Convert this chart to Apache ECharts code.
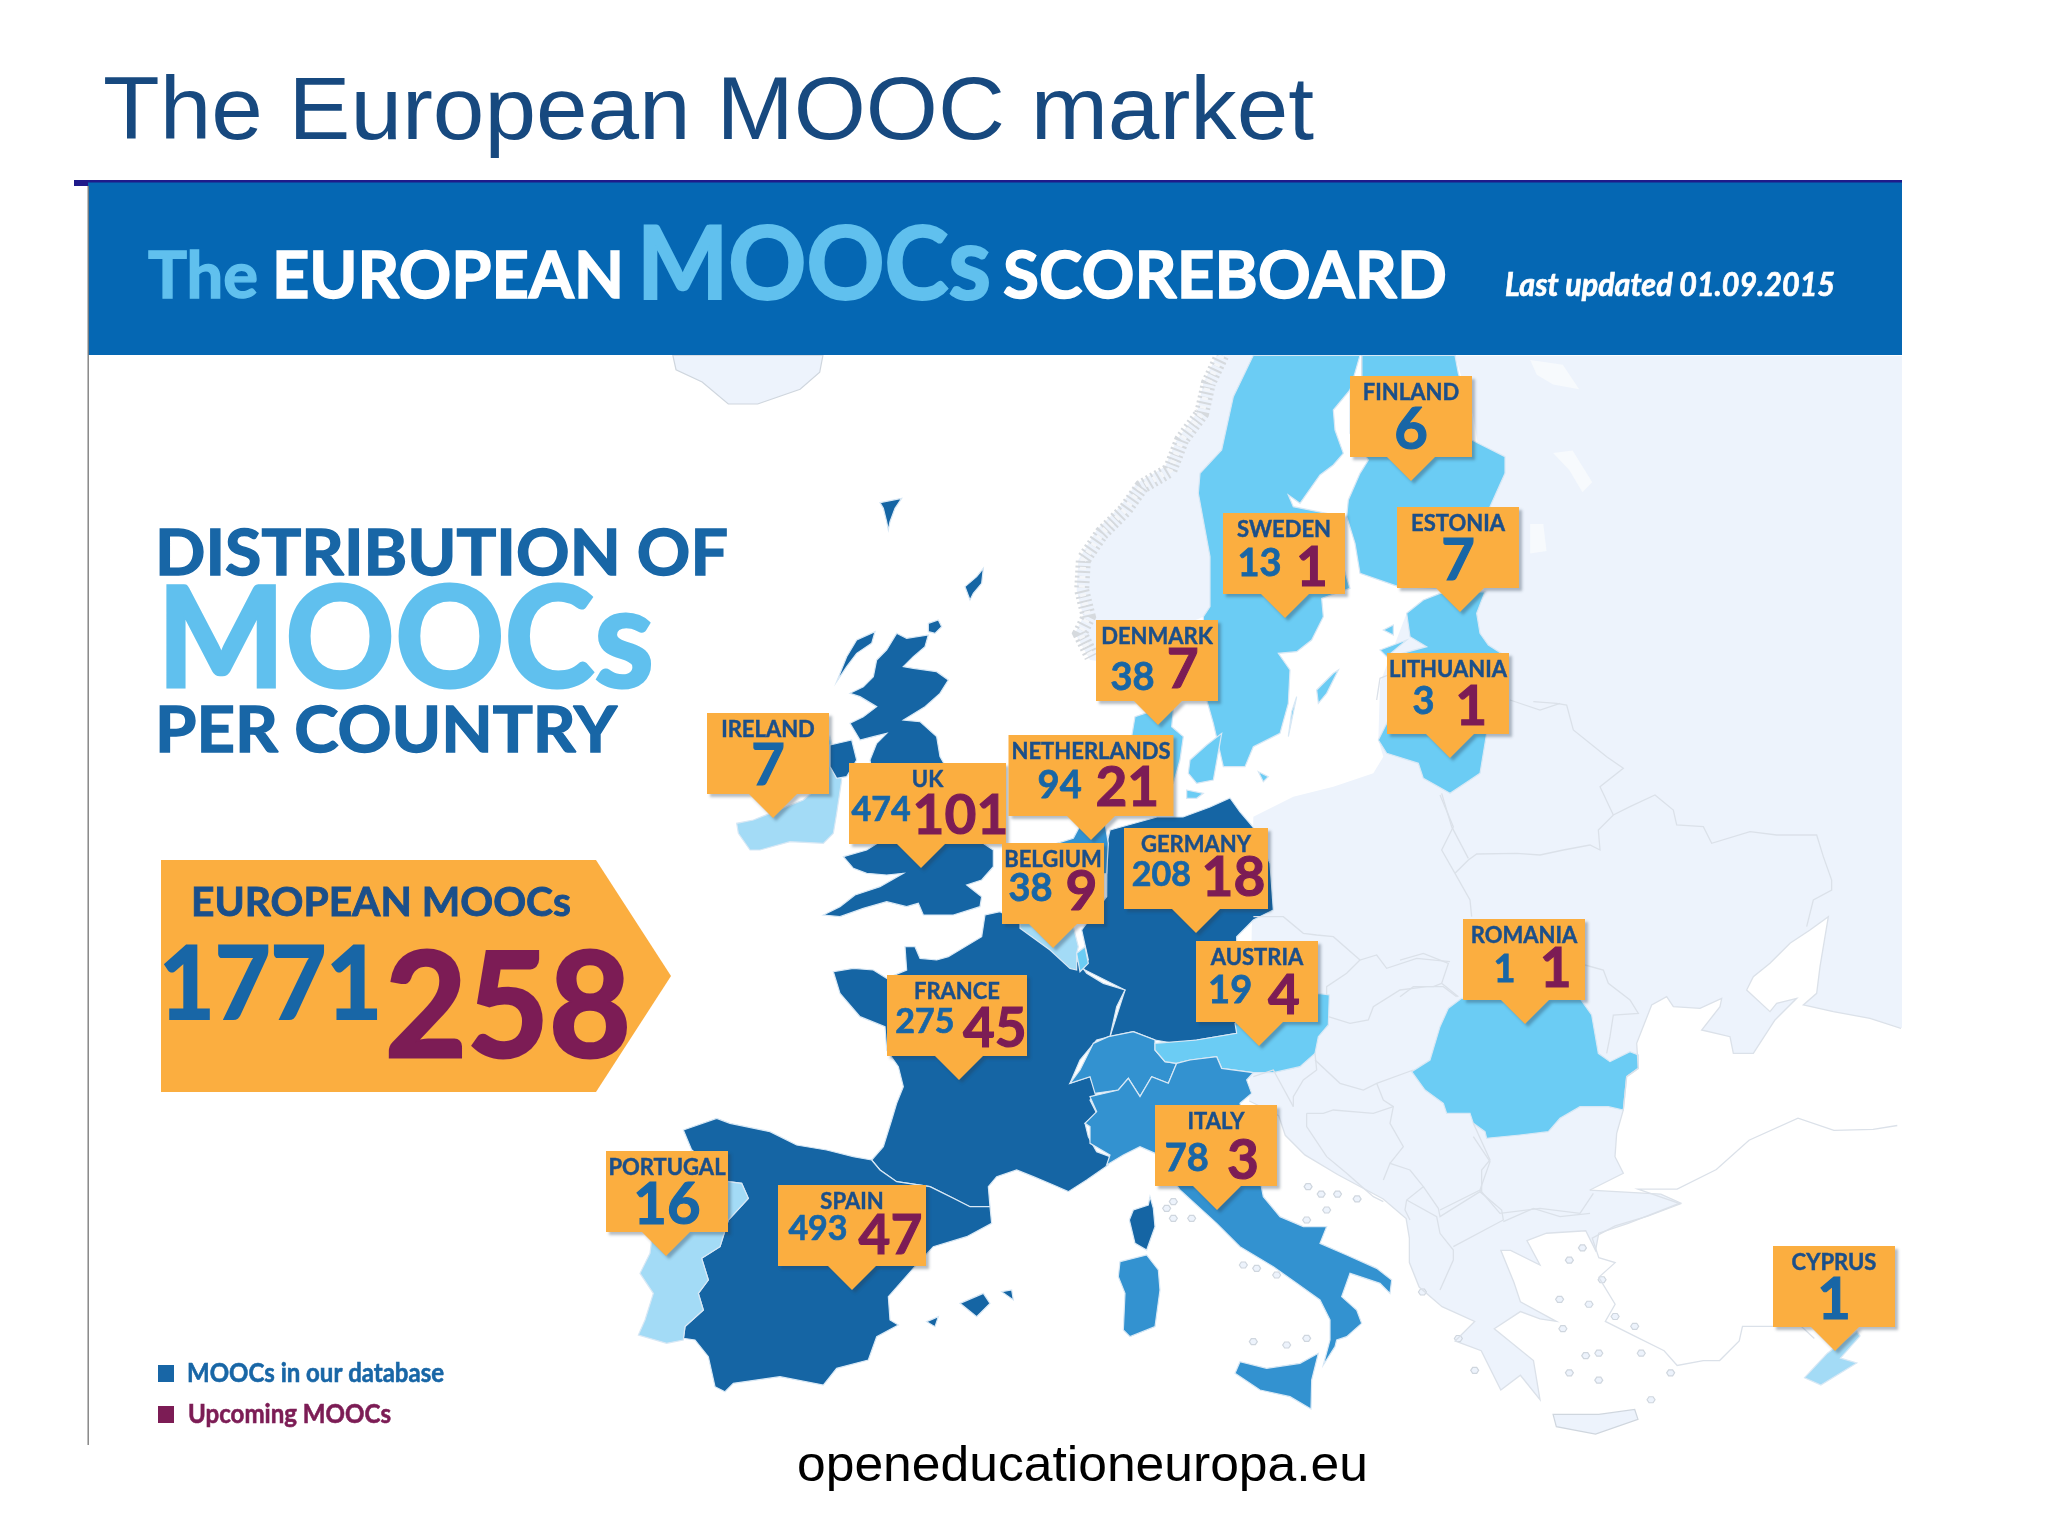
<!DOCTYPE html>
<html lang="en">
<head>
<meta charset="utf-8">
<title>The European MOOC market</title>
<script src="https://cdn.jsdelivr.net/npm/echarts@6/dist/echarts.min.js"></script>
<style>
  html, body { margin: 0; background: #fff; }
  #chart { width: 2048px; height: 1536px; }
</style>
</head>
<body>
<div id="chart"></div>
<script>
const countries = ['FINLAND', 'SWEDEN', 'ESTONIA', 'DENMARK', 'LITHUANIA', 'IRELAND', 'UK', 'NETHERLANDS', 'BELGIUM', 'GERMANY', 'AUSTRIA', 'ROMANIA', 'FRANCE', 'ITALY', 'PORTUGAL', 'SPAIN', 'CYPRUS'];
const dbCounts = [6, 13, 7, 38, 3, 7, 474, 94, 38, 208, 19, 1, 275, 78, 16, 493, 1];
const upcomingCounts = [null, 1, null, 7, 1, null, 101, 21, 9, 18, 4, 1, 45, 3, null, 47, null];

// where each callout points at on the map (page pixels)
const anchorX = [1411, 1285, 1460, 1158, 1450, 773, 921, 1091, 1053, 1196, 1259, 1525, 959, 1217, 666, 852, 1835];
const anchorY = [481, 618, 612, 725, 758, 818, 868, 840, 948, 933, 1046, 1024, 1080, 1210, 1256, 1290, 1351];

// callout box: width, db x / upcoming x as share of width, db y / upcoming y below box top, box shift from the tip
const boxLayout = {
  FINLAND: [122, .5, 0, 54, 0, 0], SWEDEN: [122, .30, .73, 51, 55, -1], ESTONIA: [122, .5, 0, 54, 0, -2],
  DENMARK: [122, .30, .71, 58, 50, -1], LITHUANIA: [122, .30, .69, 49, 54, -2], IRELAND: [122, .5, 0, 53, 0, -5],
  UK: [157, .205, .71, 47, 53, 6.5], NETHERLANDS: [165, .31, .72, 51, 53, 0], BELGIUM: [102, .28, .78, 46, 49, 0],
  GERMANY: [144, .26, .76, 47, 50, 0], AUSTRIA: [122, .28, .72, 50, 55, -2], ROMANIA: [122, .34, .76, 51, 50, -1],
  FRANCE: [140, .27, .77, 47, 54, -2], ITALY: [122, .26, .72, 54, 56, -1], PORTUGAL: [122, .5, 0, 54, 0, 1],
  SPAIN: [148, .27, .76, 44, 51, 0], CYPRUS: [122, .5, 0, 54, 0, -1]
};

const ORANGE = '#fbae40', NAVY = '#1b4f8a', BLUE = '#1866a6', PLUM = '#7c1c55', SKY = '#60c0ee', WHITE = '#ffffff';
const DARK = '#1565a4', MID = '#3392d0', LIGHT = '#6bccf4', PALE = '#a3dbf6', LAND = '#edf3fc';

const crop = (ox, oy, sx, sy) => flat => {
  const out = [];
  for (let i = 0; i < flat.length; i += 2) out.push([ox + flat[i] * sx, oy + flat[i + 1] * sy]);
  return out;
};
const z1 = crop(0, 0, 1 / 1.531, 1 / 2.042);
const z2 = crop(1024, 0, 1 / 1.531, 1 / 2.042);
const z4 = crop(1024, 768, 1 / 1.531, 1 / 2.042);
const z5 = crop(620, 480, 1 / 3, 1 / 3);
const z6 = crop(620, 960, 1 / 3, 1 / 3);
const z7 = crop(1040, 880, 1 / 3, 1 / 3);
const z8 = crop(1040, 350, 1 / 3, 1 / 3);
const z9 = crop(1400, 700, 1 / 3, 1 / 3);

const adriaticCoast = z4([345,680, 390,710, 400,750, 430,790, 480,830, 550,880, 585,920, 590,960, 590,1010, 605,1060, 640,1100, 690,1130, 660,1170, 700,1190, 730,1270, 760,1240, 790,1290, 780,1210, 720,1145, 760,1110, 790,1125, 815,1130, 760,1090, 750,1050, 730,985, 745,985, 790,1015, 770,965, 800,950, 860,945, 875,985, 880,950, 925,930, 1005,888, 975,870, 866,862]);
const blackSeaCoast = z9([1503,985, 1410,955, 1300,935, 1210,915, 1250,880, 1260,800, 1285,650, 1230,690, 1170,730, 1110,790, 1060,830, 1040,870, 1110,935, 1130,910, 1190,895, 1125,960, 1060,1060, 1000,1060, 990,1010, 905,990, 960,920, 965,895, 900,925, 820,920, 800,890, 755,915, 710,1030, 715,1105, 680,1130, 670,1230, 650,1300, 645,1370, 670,1420, 570,1470]);
const norwayCoast = z8([530,16, 490,100, 470,190, 410,270, 375,350, 290,400, 240,470, 170,540, 115,630, 110,720, 130,800, 105,850, 150,930]);
const norwayFjords = z8([545,16, 505,100, 485,190, 425,270, 390,360, 305,410, 255,480, 185,550, 130,630, 125,720, 145,800, 120,850, 155,920]);
const turkeyCoast = z4([1337,730, 1300,738, 1240,740, 1185,715, 1110,760, 1060,820, 1000,860, 940,860, 1005,890, 955,915, 905,935, 870,960, 880,1000, 905,1010, 880,1040, 905,1095, 890,1130, 935,1160, 980,1190, 1000,1220, 1040,1210, 1065,1210, 1095,1170, 1100,1140, 1190,1140, 1210,1165]);

const shapes = {
  Iceland: [z1([1030,725, 1260,725, 1255,760, 1225,795, 1160,825, 1115,825, 1075,780, 1035,755])],
  Norway: [[...norwayCoast, ...z8([300,950, 420,830, 490,800, 510,770, 510,620, 475,430, 480,370, 545,300, 580,140, 640,16])]],
  Mainland: [[[1455, 356], [1902, 356], [1902, 1028], ...blackSeaCoast, ...adriaticCoast.slice().reverse(), ...z8([640,1400, 760,1340, 880,1310, 1000,1270, 1030,1220, 1015,1170, 1020,1000, 1050,920, 1100,790, 1200,730, 1330,720, 1350,500, 1300,200, 1245,16])]],
  Crete: [z4([810,1320, 880,1320, 935,1310, 940,1330, 875,1360, 815,1345])],
  Lakes: [z2([775,735, 825,745, 850,795, 810,785, 785,765]), z2([810,925, 840,920, 870,985, 855,1005, 835,960]), z2([775,1070, 795,1070, 800,1125, 775,1130])],
  Sweden: [z8([640,16, 960,16, 930,120, 880,180, 885,240, 910,310, 880,345, 840,375, 780,460, 745,435, 760,470, 910,500, 910,650, 930,715, 845,745, 850,800, 815,870, 770,905, 715,910, 750,960, 745,1060, 720,1150, 640,1190, 615,1250, 550,1250, 520,1120, 500,1050, 490,800, 510,770, 510,620, 475,430, 480,370, 545,300, 580,140]),
    z8([830,1020, 880,970, 895,960, 860,1030, 835,1060]), z8([770,1040, 745,1160, 755,1085])],
  Finland: [z8([965,16, 1245,16, 1255,70, 1295,200, 1295,270, 1395,320, 1395,370, 1350,470, 1300,600, 1200,715, 1075,710, 960,670, 945,580, 920,500, 925,450, 960,370, 985,330, 930,250, 930,120, 965,80])],
  Estonia: [z8([1100,790, 1150,750, 1200,730, 1335,725, 1310,790, 1320,850, 1345,885, 1400,920, 1050,920, 1160,890, 1110,860]),
    z8([1020,900, 1100,870, 1040,920]), z8([1030,840, 1060,825, 1060,855])],
  Lithuania: [z8([1050,1100, 1400,1100, 1340,1150, 1320,1270, 1290,1290, 1230,1330, 1150,1285, 1135,1240, 1040,1210, 1015,1170])],
  Denmark: [z8([275,1160, 285,1100, 330,1085, 400,1080, 395,1130, 430,1160, 420,1230, 400,1300, 290,1300]),
    z8([450,1230, 500,1185, 545,1150, 520,1290, 470,1300, 445,1270]), z8([440,1320, 490,1330, 470,1345, 440,1345]), z8([655,1265, 685,1280, 670,1295])],
  Ireland: [z5([630,770, 665,900, 650,1000, 640,1060, 610,1090, 510,1085, 420,1110, 390,1110, 355,1060, 350,1030, 400,1020, 450,1000, 550,960, 620,900, 620,800])],
  UK: [z5([830,460, 860,475, 925,465, 915,500, 880,530, 850,560, 880,565, 950,575, 985,600, 960,640, 915,680, 850,720, 900,725, 950,770, 960,830, 1000,900, 1060,980, 1090,1090, 1120,1110, 1120,1160, 1085,1200, 1040,1215, 1085,1250, 1080,1280, 1000,1305, 910,1305, 895,1270, 860,1280, 800,1265, 730,1285, 660,1310, 610,1305, 660,1280, 705,1245, 780,1220, 850,1180, 800,1185, 740,1180, 700,1165, 670,1130, 740,1110, 780,1085, 800,1060, 770,950, 750,840, 770,790, 800,760, 760,770, 720,780, 690,730, 730,710, 770,680, 720,650, 690,640, 730,620, 760,590, 770,540, 800,510]),
    z5([630,795, 695,780, 710,840, 680,890, 650,895, 630,860]), z5([650,605, 680,530, 710,480, 765,455, 755,490, 710,520, 680,560]),
    z5([1035,320, 1070,290, 1090,265, 1085,310, 1060,340, 1050,360]), z5([925,430, 955,420, 965,440, 945,460, 925,455]), z5([780,68, 845,55, 825,85, 810,125, 805,150, 800,125, 790,85])],
  Germany: [z7([210,-150, 351,-189, 429,-189, 510,-219, 570,-246, 600,-204, 639,-159, 690,-50, 700,90, 640,120, 590,170, 590,460, 470,480, 400,490, 345,480, 280,455, 210,470, 255,330, 135,270, 100,240, 145,240, 125,150, 200,50, 201,-111])],
  France: [z6([1140,-145, 1095,-135, 1085,-70, 985,-10, 950,0, 900,-5, 885,-40, 855,-40, 860,30, 800,55, 760,30, 700,25, 640,35, 660,100, 720,170, 795,200, 800,270, 835,320, 850,380, 830,430, 815,480, 790,560, 755,600, 780,630, 830,665, 930,680, 1000,715, 1050,740, 1110,740, 1105,680, 1130,650, 1190,630, 1240,650, 1300,675, 1345,695, 1400,660, 1465,615, 1470,590, 1430,575, 1405,530, 1395,490, 1430,460, 1410,420, 1430,400, 1410,350, 1350,370, 1380,300, 1430,240, 1470,230, 1490,140, 1515,90, 1450,70, 1400,40, 1370,0, 1300,-25, 1240,-85, 1195,-115]),
    z7([330,950, 340,985, 345,1040, 320,1110, 285,1090, 268,1020, 280,990, 325,975])],
  Spain: [z6([190,510, 290,475, 330,490, 450,515, 530,555, 620,570, 700,590, 755,600, 780,630, 830,665, 930,680, 1000,715, 1050,740, 1110,740, 1115,790, 1040,830, 940,860, 880,925, 805,1010, 810,1080, 835,1095, 770,1130, 745,1200, 650,1225, 610,1275, 480,1250, 340,1270, 315,1295, 285,1280, 265,1190, 225,1140, 190,1135, 195,1100, 250,1050, 235,1000, 265,960, 245,895, 300,860, 325,780, 385,715, 365,670, 325,665, 215,570]),
    z6([1020,1030, 1090,1000, 1110,1030, 1070,1070]), z6([1145,995, 1175,990, 1180,1020]), z6([920,1085, 955,1070, 945,1100])],
  Portugal: [z6([215,570, 325,665, 365,670, 385,715, 325,780, 300,860, 245,895, 265,960, 235,1000, 250,1050, 195,1100, 190,1140, 140,1150, 55,1125, 75,1080, 100,1000, 60,940, 90,880, 100,800, 120,700])],
  Netherlands: [z5([1310,1090, 1360,1075, 1400,1000, 1450,1000, 1465,1090, 1460,1180, 1400,1190, 1320,1160])],
  Belgium: [z5([1200,1345, 1290,1410, 1350,1465, 1370,1470, 1370,1420, 1375,1400, 1360,1340, 1340,1180, 1200,1200])],
  Luxembourg: [z5([1370,1420, 1395,1400, 1405,1450, 1380,1475])],
  Switzerland: [z7([90,610, 120,570, 160,490, 205,470, 280,455, 345,480, 345,510, 375,545, 410,550, 385,610, 335,590, 300,650, 265,595, 235,630, 165,640, 150,590])],
  Austria: [z7([345,490, 470,480, 590,460, 585,430, 700,350, 835,340, 868,345, 865,435, 835,470, 825,520, 780,560, 700,578, 640,578, 545,565, 530,530, 450,540, 410,550, 375,545, 345,510])],
  Italy: [z7([150,650, 235,630, 265,595, 300,650, 335,590, 385,610, 410,550, 450,540, 530,530, 545,565, 640,578, 620,600, 635,640, 600,670, 660,900, 670,950, 720,1010, 790,1040, 860,1040, 840,1090, 920,1125, 1010,1165, 1055,1200, 1050,1240, 1020,1210, 930,1180, 905,1250, 950,1290, 965,1330, 920,1370, 890,1380, 885,1400, 850,1455, 870,1380, 870,1320, 840,1260, 770,1210, 700,1160, 600,1100, 530,1030, 420,930, 345,820, 300,800, 250,825, 200,855, 210,825, 150,790, 150,740, 135,730, 170,695]),
    z7([585,1480, 600,1445, 680,1465, 780,1450, 835,1420, 815,1500, 813,1587, 750,1550, 660,1530]),
    z7([240,1145, 320,1125, 355,1170, 360,1230, 345,1340, 270,1370, 250,1350, 255,1240, 235,1190])],
  Romania: [z9([145,925, 185,895, 540,895, 575,945, 595,1060, 630,1085, 690,1055, 715,1065, 715,1105, 680,1130, 670,1230, 625,1220, 540,1220, 480,1255, 445,1295, 360,1305, 260,1315, 255,1295, 220,1270, 210,1240, 140,1240, 130,1210, 75,1170, 35,1115, 90,1080, 120,980])],
  Cyprus: [z4([1195,1245, 1230,1195, 1275,1150, 1280,1160, 1250,1205, 1275,1215, 1220,1260])]
};

// small scattered islands
const islandSpots = [
  ...z4([835,1005, 855,980, 885,1045, 865,1095, 905,1120, 935,1140, 825,1145, 880,1195, 860,1200, 945,1195, 990,1235, 960,1290, 880,1250, 835,1235, 665,1165, 610,1070, 690,1230, 820,1085, 435,855, 455,870, 480,870, 510,880]),
  ...z7([400,965, 380,985, 455,1015, 400,1015, 640,1385, 740,1395, 800,1375, 610,1155, 650,1165, 710,1185, 800,1020, 860,990])
];
shapes.Islands = islandSpots.map(([x, y]) => [[x - 4, y], [x - 2, y - 3], [x + 2, y - 3], [x + 4, y], [x + 2, y + 3], [x - 2, y + 3]]);

const regionFill = {
  Iceland: LAND, Norway: LAND, Mainland: LAND, Crete: LAND, Islands: LAND, Lakes: '#f7fafd',
  Sweden: LIGHT, Finland: LIGHT, Estonia: LIGHT, Lithuania: LIGHT, Denmark: LIGHT, Austria: LIGHT, Romania: LIGHT, Luxembourg: LIGHT,
  Ireland: PALE, Portugal: PALE, Belgium: PALE, Cyprus: PALE,
  UK: DARK, Germany: DARK, France: DARK, Spain: DARK,
  Netherlands: MID, Switzerland: MID, Italy: MID
};
const greyEdged = ['Iceland', 'Crete', 'Islands'];

const borderLines = [
  z7([640,110, 730,110, 790,160, 830,165, 880,170, 960,240, 1010,225, 1040,265, 1130,235, 1230,245]),
  z7([860,345, 860,320, 920,280, 960,240]),
  z7([865,410, 930,430, 985,420, 1000,380, 1080,330, 1160,320, 1210,320, 1250,350]),
  z7([825,520, 830,570, 790,600, 760,650, 760,680]),
  z7([825,540, 900,610, 970,630, 1010,610, 1120,570]),
  z7([1010,610, 1030,660, 1060,680, 1050,730, 1090,800, 1050,850]),
  z7([800,700, 850,700, 880,690, 1000,700, 1060,680]),
  z7([800,700, 800,740, 860,830, 920,880, 1000,950, 1030,965]),
  z7([1030,900, 1050,850, 1110,870, 1150,920, 1100,960, 1095,990, 1110,1020]),
  z7([1150,920, 1195,985, 1200,1010, 1320,935, 1385,990, 1390,1020, 1240,1100]),
  z7([1300,730, 1350,840, 1325,870, 1325,935]),
  z7([1390,1025, 1480,985, 1560,1010, 1650,1000]),
  z7([1100,960, 1190,1010, 1200,1060, 1240,1110, 1240,1140, 1200,1230]),
  z7([640,590, 700,570, 760,680]),
  z9([120,285, 160,380, 125,450, 165,520, 210,600, 215,650]),
  z9([165,520, 205,480, 230,462, 350,460, 420,465, 490,450, 570,435, 600,450, 595,390, 640,345, 690,320, 765,285, 820,330, 830,375, 910,380, 935,430, 1050,395, 1130,405, 1250,405, 1270,470, 1295,540, 1295,570, 1240,600, 1220,680]),
  z9([640,345, 600,260, 670,205, 620,170, 520,90, 500,15, 470,10, 400,5]),
  z9([555,795, 610,810, 625,850, 690,900, 715,940, 640,945, 630,1010, 620,1060]),
  z9([0,780, 70,760, 145,790, 125,850, 175,890]),
  z9([0,890, 40,860, 100,860, 125,850]),
  z9([220,1310, 270,1385, 240,1470, 120,1530]),
  z9([240,1470, 300,1540, 420,1525, 540,1540, 580,1480]),
  z8([1205,1330, 1235,1430, 1285,1525]),
  z8([1010,1050, 1020,985, 1045,975]),
  z8([1410,1050, 1500,1080, 1560,1060]),
  z8([965,16, 965,80]),
  turkeyCoast,
  adriaticCoast,
  blackSeaCoast
];

function toGeoJson() {
  return {
    type: 'FeatureCollection',
    features: Object.keys(shapes).map(name => ({
      type: 'Feature',
      properties: { name },
      geometry: { type: 'MultiPolygon', coordinates: shapes[name].map(ring => [ring.concat([ring[0]])]) }
    }))
  };
}
echarts.registerMap('europe', toGeoJson());

const measure = document.createElement('canvas').getContext('2d');

// text placed by its left edge and baseline, squeezed to the width it has in the picture
function label(text, x, baseline, font, size, fill, width, family) {
  const fontFamily = family || 'Lato';
  const cssFont = font + ' ' + size + 'px "' + fontFamily + '"';
  measure.font = cssFont;
  const k = family ? 0.29 : 0.305;
  const style = { text, font: cssFont, fill, align: 'left', verticalAlign: 'middle' };
  if (!family) { // Lato bold is lighter than the lettering in the picture
    style.stroke = fill;
    style.lineWidth = size * 0.022;
  }
  return {
    type: 'text', x, y: baseline - k * size, z: 20,
    scaleX: width / measure.measureText(text).width,
    style
  };
}

const sum = arr => arr.reduce((a, b) => a + (b || 0), 0);

const pageGraphics = [
  { type: 'rect', z: 15, shape: { x: 88, y: 182, width: 1814, height: 173 }, style: { fill: '#0567b3' } },
  { type: 'rect', z: 16, shape: { x: 74, y: 180, width: 1828, height: 2.5 }, style: { fill: '#1f1a8a' } },
  { type: 'rect', z: 16, shape: { x: 74, y: 180, width: 14, height: 6 }, style: { fill: '#1f1a8a' } },
  { type: 'rect', z: 16, shape: { x: 87.5, y: 186, width: 1.4, height: 1259 }, style: { fill: '#7f7f7f' } },
  label('The European MOOC market', 103, 140, 'normal', 89, '#17497f', 1211, 'Liberation Sans'),
  label('The', 148, 297, 'bold', 65, SKY, 110),
  label('EUROPEAN', 272, 297, 'bold', 65, WHITE, 352),
  label('MOOCs', 637, 297, 'bold', 101, SKY, 354),
  label('SCOREBOARD', 1003, 297, 'bold', 65, WHITE, 444),
  label('Last updated 01.09.2015', 1505, 295, 'italic bold', 32, WHITE, 330),
  label('DISTRIBUTION OF', 155, 574, 'bold', 64, BLUE, 573),
  label('MOOCs', 157, 685, 'bold', 139, SKY, 497),
  label('PER COUNTRY', 155, 751, 'bold', 64, BLUE, 462),
  { type: 'polygon', z: 16, shape: { points: [[161, 860], [596, 860], [671, 976], [596, 1092], [161, 1092]] }, style: { fill: ORANGE } },
  label('EUROPEAN MOOCs', 191, 915, 'bold', 40, NAVY, 380),
  label(String(sum(dbCounts)), 159, 1017, 'bold', 102, BLUE, 223),
  label(String(sum(upcomingCounts)), 385, 1054, 'bold', 145, PLUM, 246),
  { type: 'rect', z: 16, shape: { x: 158, y: 1365, width: 16, height: 17 }, style: { fill: BLUE } },
  { type: 'rect', z: 16, shape: { x: 158, y: 1406, width: 16, height: 17 }, style: { fill: PLUM } },
  label('MOOCs in our database', 187, 1382, 'bold', 27, BLUE, 257),
  label('Upcoming MOOCs', 188, 1423, 'bold', 27, PLUM, 203),
  label('openeducationeuropa.eu', 797, 1482, 'normal', 50, '#000000', 571, 'Liberation Sans')
];

function renderCallout(params, api) {
  const name = countries[params.dataIndex];
  const [w, dbShare, upShare, dbY, upY, shift] = boxLayout[name];
  const tip = api.coord([api.value(0), api.value(1)]);
  const left = tip[0] - w / 2 + shift, right = left + w;
  const bottom = tip[1] - 24, top = bottom - 81;
  const db = api.value(2), up = api.value(3);
  const single = isNaN(up) || up === null;
  const txt = (text, x, y, size, fill) => ({
    type: 'text',
    style: { text: String(text), x, y, fill, stroke: fill, lineWidth: size * 0.02, font: 'bold ' + size + 'px Lato', align: 'center', verticalAlign: 'middle' }
  });
  const children = [{
    type: 'polygon',
    shape: { points: [[left, top], [right, top], [right, bottom], [tip[0] + 24, bottom], tip, [tip[0] - 24, bottom], [left, bottom]] },
    style: { fill: ORANGE, shadowColor: 'rgba(40,60,80,0.35)', shadowBlur: 3, shadowOffsetX: 3, shadowOffsetY: 3 }
  }, txt(name, left + w / 2, top + 17, 22, NAVY)];
  if (single) {
    children.push(txt(db, left + w * dbShare, top + dbY, 58, BLUE));
  } else {
    const dbSize = db >= 100 ? 34 : 38;
    children.push(txt(db, left + w * dbShare, top + dbY, dbSize, BLUE));
    children.push(txt(up, left + w * upShare, top + upY, 55, PLUM));
  }
  return { type: 'group', children };
}

const chart = echarts.init(document.getElementById('chart'), null, { renderer: 'canvas' });
chart.setOption({
  animation: false,
  backgroundColor: '#ffffff',
  geo: {
    map: 'europe',
    silent: true,
    roam: false,
    projection: { project: p => p, unproject: p => p },
    boundingCoords: [[0, 0], [2048, 1536]],
    layoutCenter: [1024, 768],
    layoutSize: 2048,
    z: 1,
    label: { show: false },
    itemStyle: { areaColor: LAND, borderColor: '#d8e8f5', borderWidth: 1.2 },
    regions: Object.keys(regionFill).map(name => ({
      name,
      itemStyle: {
        areaColor: regionFill[name],
        borderWidth: regionFill[name] === LAND && !greyEdged.includes(name) || name === 'Lakes' ? 0 : 1.2,
        borderColor: greyEdged.includes(name) ? '#cfd6de' : '#d8e8f5'
      }
    }))
  },
  graphic: { elements: pageGraphics },
  series: [
    {
      type: 'lines',
      coordinateSystem: 'geo',
      polyline: true,
      silent: true,
      z: 2,
      lineStyle: { color: '#dbe1e9', width: 1.3, opacity: 1 },
      data: borderLines.map(coords => ({ coords })).concat([
        { coords: norwayFjords, lineStyle: { color: '#d6dade', width: 15, type: [2, 3], opacity: 1 } },
        { coords: norwayFjords, lineStyle: { color: '#f4f6f9', width: 6, type: [3, 6], opacity: 1 } }
      ])
    },
    {
      type: 'custom',
      coordinateSystem: 'geo',
      silent: true,
      z: 5,
      renderItem: renderCallout,
      data: countries.map((c, i) => [anchorX[i], anchorY[i], dbCounts[i], upcomingCounts[i]])
    }
  ]
});
</script>
</body>
</html>
